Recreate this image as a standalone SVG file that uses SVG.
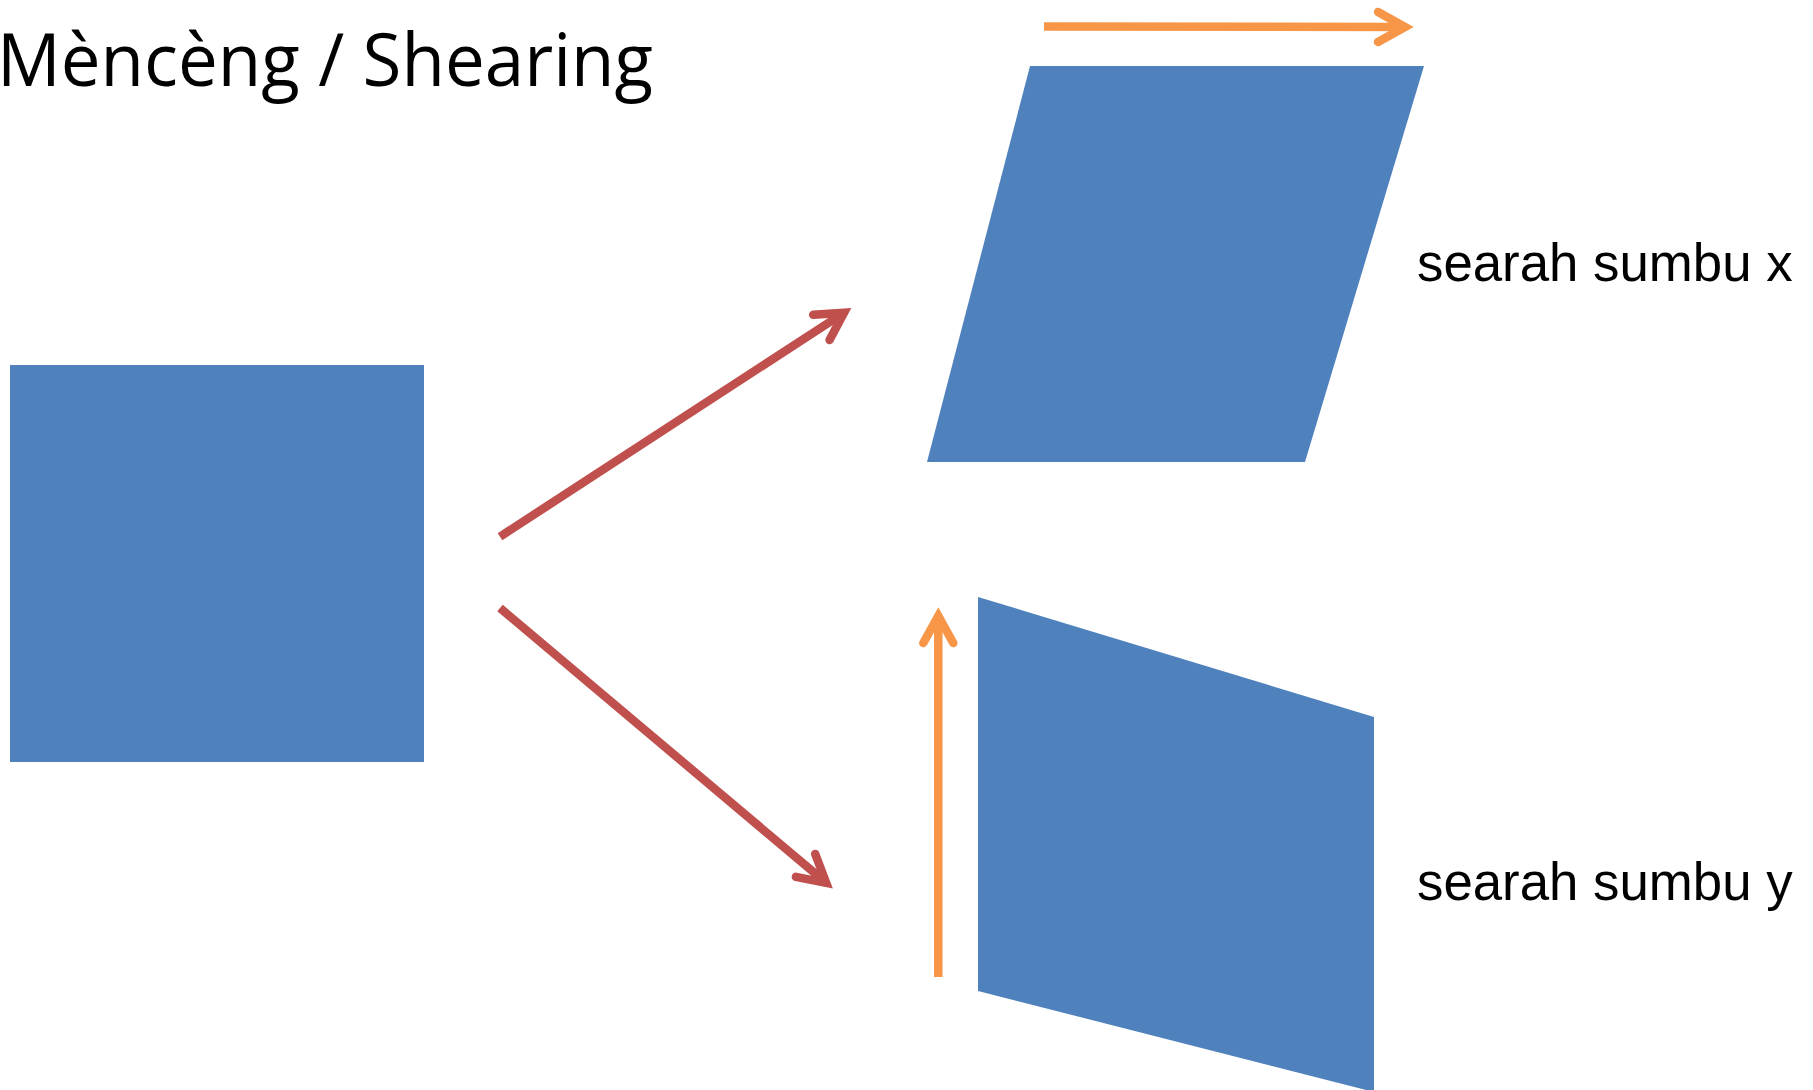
<svg xmlns="http://www.w3.org/2000/svg" width="1813" height="1090" viewBox="0 0 1813 1090">
  <style>
    .shape { fill: #4F81BD; }
    .red { stroke: #C0504D; stroke-width: 8.5; fill: none; stroke-linecap: butt; }
    .orange { stroke: #F79646; stroke-width: 8.5; fill: none; stroke-linecap: butt; }
    .title { font-family: "Open Sans", "Noto Sans", sans-serif; font-size: 73px; fill: #000; }
    .label { font-family: "Liberation Sans", Arial, sans-serif; font-size: 52.8px; fill: #000; }
  </style>
  <defs>
    <marker id="arrRed" markerUnits="userSpaceOnUse" viewBox="-40 -25 50 50" refX="0" refY="0" markerWidth="50" markerHeight="50" orient="auto" overflow="visible">
      <path d="M-27,-15 L0,0 L-27,15" fill="none" stroke="#C0504D" stroke-width="8.5" stroke-linecap="round" stroke-linejoin="miter"/>
    </marker>
    <marker id="arrOrange" markerUnits="userSpaceOnUse" viewBox="-40 -25 50 50" refX="0" refY="0" markerWidth="50" markerHeight="50" orient="auto" overflow="visible">
      <path d="M-27,-15 L0,0 L-27,15" fill="none" stroke="#F79646" stroke-width="8.5" stroke-linecap="round" stroke-linejoin="miter"/>
    </marker>
  </defs>
  <rect width="1813" height="1090" fill="#FFFFFF"/>

  <g id="title">
    <text class="title" x="-3" y="86" textLength="656" lengthAdjust="spacingAndGlyphs">Mèncèng / Shearing</text>
  </g>

  <g id="square">
    <rect class="shape" x="10" y="365" width="414" height="397"/>
  </g>

  <g id="shear-x">
    <polygon class="shape" points="1030,66 1424,66 1305,462 927,462"/>
  </g>

  <g id="shear-y">
    <polygon class="shape" points="978,597 1374,717 1374,1092 978,991"/>
  </g>

  <g id="label-x">
    <text class="label" x="1417" y="281">searah sumbu x</text>
  </g>

  <g id="label-y">
    <text class="label" x="1417" y="900">searah sumbu y</text>
  </g>

  <g id="connectors">
    <line class="red" x1="500" y1="536.7" x2="844" y2="312.7" marker-end="url(#arrRed)"/>
    <line class="red" x1="500" y1="608" x2="826.2" y2="882.8" marker-end="url(#arrRed)"/>
    <line class="orange" x1="1044" y1="26.5" x2="1405" y2="27" marker-end="url(#arrOrange)"/>
    <line class="orange" x1="938.3" y1="977" x2="938.3" y2="616" marker-end="url(#arrOrange)"/>
  </g>
</svg>
